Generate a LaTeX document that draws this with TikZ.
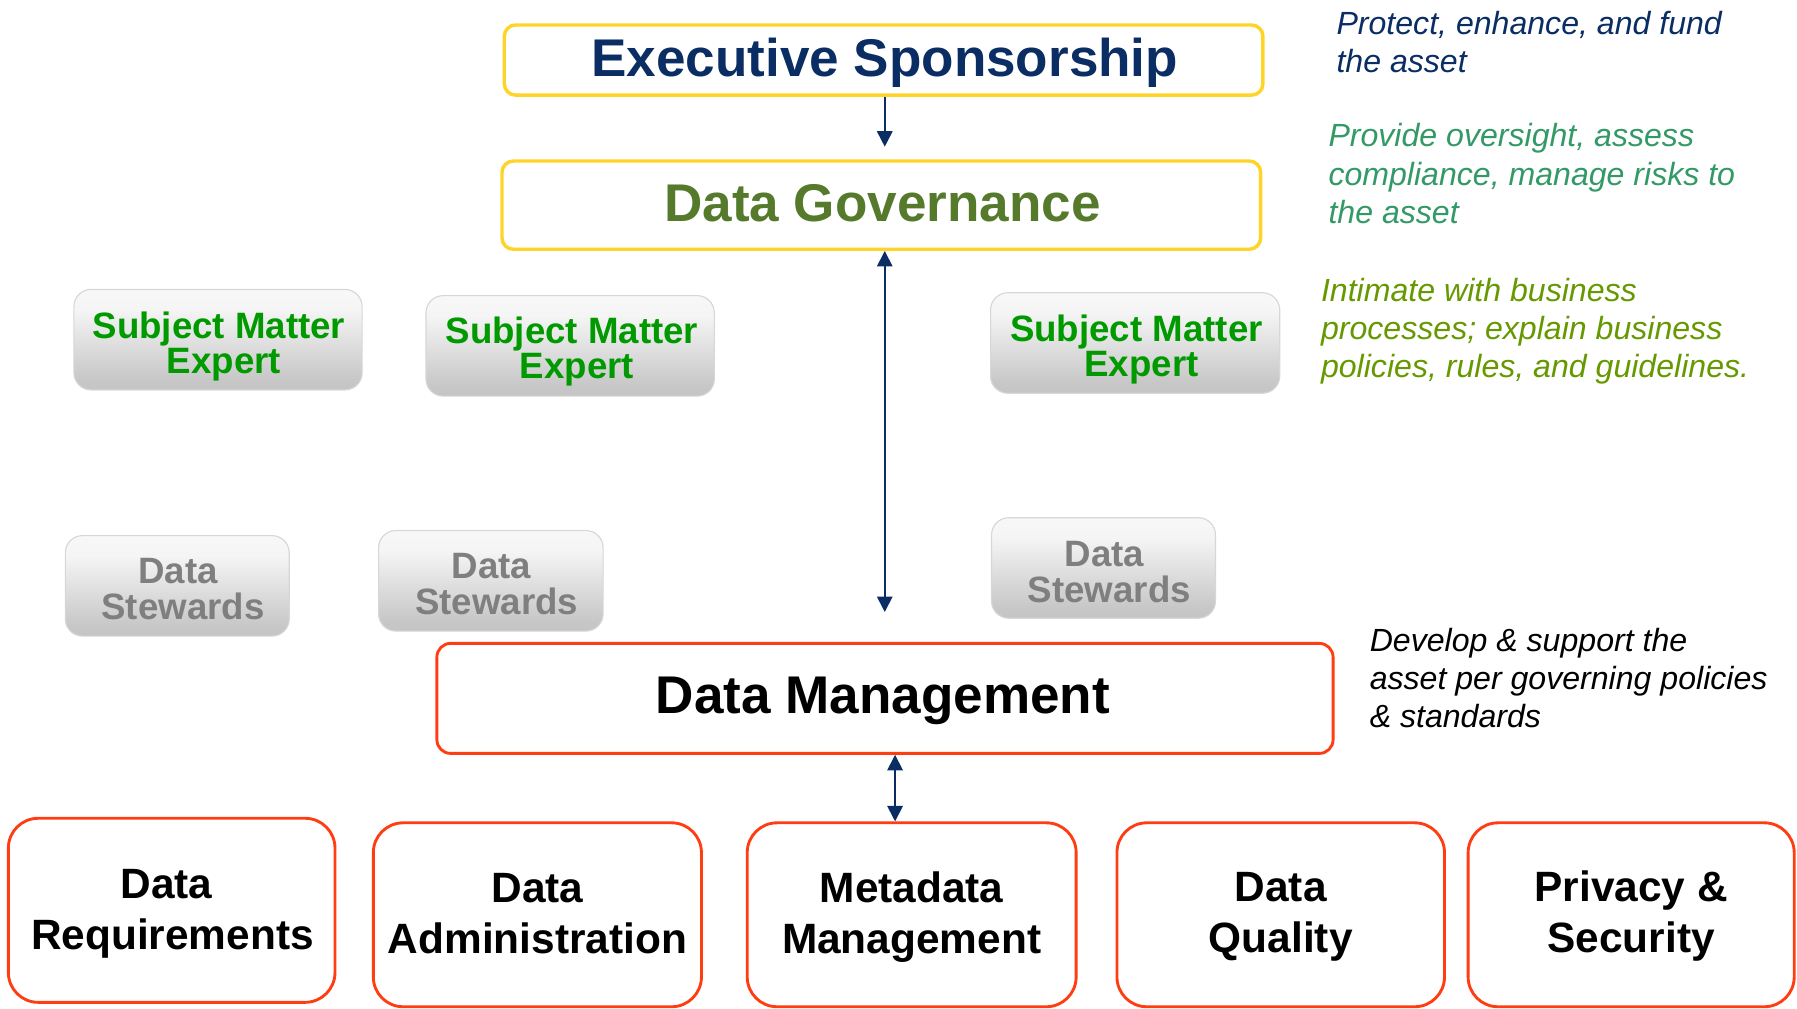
\documentclass[tikz,border=0pt]{standalone}
\usepackage{fontspec}
\setmainfont{Liberation Sans}
\usetikzlibrary{arrows.meta}
\definecolor{esblue}{RGB}{10,45,100}
\definecolor{dggreen}{RGB}{85,122,43}
\definecolor{ybord}{RGB}{255,212,40}
\definecolor{rbord}{RGB}{255,61,18}
\definecolor{smegreen}{RGB}{0,153,0}
\definecolor{dsgray}{RGB}{127,127,127}
\definecolor{arrblue}{RGB}{10,45,100}
\definecolor{provgreen}{RGB}{51,153,102}
\definecolor{intgreen}{RGB}{102,153,0}
\definecolor{softbord}{RGB}{215,215,215}
\pgfdeclareverticalshading{btnshade}{100bp}{color(0bp)=(black!27); color(30bp)=(black!22); color(65bp)=(black!4); color(100bp)=(white)}
\newcommand\topstrutx{\rule{0pt}{0.75em}}
\begin{document}
\begin{tikzpicture}[x=1pt,y=-1pt,
  ybox/.style={draw=ybord, line width=3pt, rounded corners=10pt, fill=white, inner sep=0pt},
  rbox/.style={draw=rbord, line width=2.5pt, rounded corners=12pt, fill=white, inner sep=0pt},
  bbox/.style={draw=rbord, line width=2.5pt, rounded corners=26pt, fill=white, inner sep=0pt, minimum height=160.5pt},
  gbox/.style={draw=softbord, line width=1pt, rounded corners=15pt, shading=btnshade, inner sep=0pt, minimum height=87.7pt},
  bigtext/.style={inner sep=0pt, font=\fontsize{46.3}{50}\selectfont\bfseries},
  bottext/.style={inner sep=0pt, align=center, anchor=north, font=\fontsize{37}{44.5}\selectfont\bfseries},
  smetext/.style={inner sep=0pt, align=center, anchor=north, text=smegreen, font=\fontsize{32}{30.5}\selectfont\bfseries},
  dstext/.style={inner sep=0pt, align=center, anchor=north, text=dsgray, font=\fontsize{32}{31.4}\selectfont\bfseries},
  desc/.style={inner sep=0pt, align=left, anchor=north west, font=\fontsize{28}{33.5}\selectfont\itshape},
  arr/.style={draw=arrblue, line width=1.5pt, -{Triangle[length=13.5pt,width=13.5pt]}},
  darr/.style={draw=arrblue, line width=1.5pt, {Triangle[length=13.5pt,width=13.5pt]}-{Triangle[length=13.5pt,width=13.5pt]}}
]
\useasboundingbox (0,0) rectangle (1568,880);

% main boxes
\node[ybox, minimum width=662pt, minimum height=61.2pt] (es) at (771,52.4) {};
\node[bigtext, anchor=base, text=esblue] (est) at (772,67) {Executive Sponsorship};
\node[ybox, minimum width=662pt, minimum height=77pt] (dg) at (769,179) {};
\node[bigtext, anchor=base, text=dggreen] (dgt) at (770,193.4) {Data Governance};
\node[rbox, minimum width=782pt, minimum height=96pt] (dm) at (772.2,609.4) {};
\node[bigtext, anchor=base, text=black] (dmt) at (770.5,622.5) {Data Management};

% subject matter experts
\node[gbox, minimum width=251.5pt] (sme1) at (190.25,296.4) {};
\node[smetext] (sme1t) at (195.5,271.2) {\topstrutx Subject Matter\kern0.278em\\Expert};
\node[gbox, minimum width=251.6pt] (sme2) at (497.5,301.8) {};
\node[smetext] (sme2t) at (503.5,275.6) {\topstrutx Subject Matter\kern0.278em\\Expert};
\node[gbox, minimum width=252.3pt] (sme3) at (990.5,299.3) {};
\node[smetext] (sme3t) at (996,274.2) {\topstrutx Subject Matter\kern0.278em\\Expert};

% data stewards
\node[gbox, minimum width=195.4pt] (ds1) at (154.7,511.2) {};
\node[dstext] (ds1t) at (159.7,485) {\topstrutx Data\kern0.278em\\Stewards};
\node[gbox, minimum width=195.9pt] (ds2) at (428.3,506.8) {};
\node[dstext] (ds2t) at (433.3,480.6) {\topstrutx Data\kern0.278em\\Stewards};
\node[gbox, minimum width=195.4pt] (ds3) at (962.9,495.6) {};
\node[dstext] (ds3t) at (968,470.5) {\topstrutx Data\kern0.278em\\Stewards};

% bottom boxes
\node[bbox, minimum width=285pt, minimum height=160.6pt] (dr) at (149.8,794.3) {};
\node[bottext] (drt) at (150.5,756.2) {\topstrutx Data\kern0.278em\\Requirements};
\node[bbox, minimum width=286.3pt] (da) at (468.9,798.2) {};
\node[bottext] (dat) at (469,759.2) {\topstrutx Data\\Administration};
\node[bbox, minimum width=287pt] (mm) at (795.5,798.2) {};
\node[bottext] (mmt) at (795.5,759.2) {\topstrutx Metadata\\Management};
\node[bbox, minimum width=285.8pt] (dq) at (1117.5,798.2) {};
\node[bottext] (dqt) at (1117.5,758.5) {\topstrutx Data\\Quality};
\node[bbox, minimum width=284.5pt] (ps) at (1423.3,798.2) {};
\node[bottext] (pst) at (1423.3,758.3) {\topstrutx Privacy \&\\Security};

% descriptions
\node[desc, text=esblue] (d1) at (1166,8.5) {\topstrutx Protect, enhance, and fund\\the asset};
\node[desc, text=provgreen] (d2) at (1159,107) {\topstrutx Provide oversight, assess\\compliance, manage risks to\\the asset};
\node[desc, text=intgreen] (d3) at (1152.5,241.5) {\topstrutx Intimate with business\\processes; explain business\\policies, rules, and guidelines.};
\node[desc, text=black] (d4) at (1195,547) {\topstrutx Develop \& support the\\asset per governing policies\\\& standards};

% connectors
\coordinate (a1end) at (772,128);
\draw[arr] (es.south -| a1end) -- (a1end);
\coordinate (a2end) at (772,534);
\draw[darr] (dg.south -| a2end) -- (a2end);
\coordinate (a3x) at (781,0);
\draw[darr] (dm.south -| a3x) -- (mm.north -| a3x);
\end{tikzpicture}
\end{document}
